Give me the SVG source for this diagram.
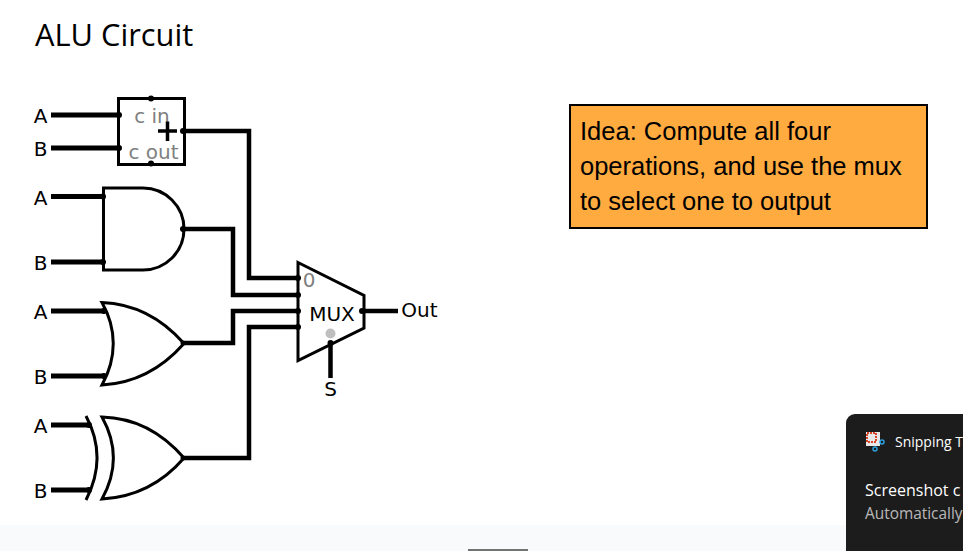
<svg xmlns="http://www.w3.org/2000/svg" width="963" height="551" viewBox="0 0 963 551">
<style>
.w{fill:none;stroke:#000;stroke-width:4.500;stroke-linejoin:miter}
.n{fill:none;stroke:#000;stroke-width:5}
.g{fill:#fff;stroke:#000;stroke-width:3;stroke-linejoin:miter}
.l{font-family:"DejaVu Sans",sans-serif;font-size:20px;fill:#000;text-anchor:middle}
.y{font-family:"DejaVu Sans",sans-serif;font-size:20px;fill:#808080;text-anchor:middle}
.d{fill:#000}
.i{font-family:"Liberation Sans",Arial,sans-serif;font-size:25.500px;fill:#000}
.t{font-family:"Open Sans",sans-serif;fill:#fff}
</style>
<rect width="963" height="551" fill="#fff"/>
<rect x="0" y="525" width="963" height="26" fill="#f9fafc"/>
<rect x="468" y="549" width="60" height="2" fill="#6f7472"/>
<text id="title" x="35" y="46" font-family="'Open Sans',sans-serif" font-size="30.800" fill="#000">ALU Circuit</text>
<g id="connectors">
<path class="n" d="M51 115H118M51 148H118"/>
<path class="n" d="M51 196.500H103M51 262H103"/>
<path class="n" d="M51 311H105M51 376H105"/>
<path class="n" d="M51 425H90M51 490H90"/>
<path class="w" d="M183 131H249V278H298"/>
<path class="w" d="M183 229H233V295H298"/>
<path class="w" d="M184 343H233V311H298"/>
<path class="w" d="M184 458H249V327H298"/>
<path class="w" d="M361 311H398"/>
<path class="w" d="M330.500 343V378"/>
</g>
<g id="adder">
<rect class="g" x="118.500" y="98.500" width="66" height="66"/>
<text class="y" x="152" y="123">c in</text>
<text class="y" x="153.500" y="159">c out</text>
<path d="M158 131H177M167.500 121.500V141" fill="none" stroke="#000" stroke-width="3.500"/>
<g class="d"><circle cx="151" cy="98.500" r="3"/><circle cx="151" cy="163.500" r="3"/><circle cx="119" cy="115" r="3"/><circle cx="119" cy="148" r="3"/><circle cx="183" cy="131" r="3"/></g>
</g>
<g id="and">
<path class="g" d="M103.500 188H143A41 41 0 0 1 143 270H103.500Z"/>
<g class="d"><circle cx="103" cy="196.500" r="3"/><circle cx="103" cy="262" r="3"/><circle cx="183" cy="229" r="3"/></g>
</g>
<g id="or">
<path class="g" d="M102 302.500C140 304 165 322 184 343.500C165 365 140 383 102 385C117 358 117 329 102 302.500Z"/>
<g class="d"><circle cx="104" cy="311" r="3"/><circle cx="104" cy="376" r="3"/><circle cx="183" cy="343" r="2.500"/></g>
</g>
<g id="xor">
<path class="g" d="M102 417C140 418 165 436 184 458C165 480 140 497 102 499C117 472 117 444 102 417Z"/>
<path d="M86 416C101 444 101 471 86 500" fill="none" stroke="#000" stroke-width="3"/>
<g class="d"><circle cx="89" cy="425" r="3"/><circle cx="89" cy="490" r="3"/><circle cx="183" cy="458" r="2.500"/></g>
</g>
<g id="mux">
<path class="g" d="M298 262.500L364 295.500V328L298 360.500Z"/>
<text class="y" x="309" y="287">0</text>
<text class="l" x="332" y="321">MUX</text>
<circle cx="330.500" cy="333.500" r="5" fill="#bfbfbf"/>
<g class="d"><circle cx="298" cy="278" r="3"/><circle cx="298" cy="295" r="3"/><circle cx="298" cy="311" r="3"/><circle cx="298" cy="327" r="3"/><circle cx="362" cy="311" r="3"/><circle cx="330.500" cy="343" r="3"/></g>
</g>
<g id="labels">
<text class="l" x="40.500" y="122.500">A</text>
<text class="l" x="40.500" y="155.500">B</text>
<text class="l" x="40.500" y="204.500">A</text>
<text class="l" x="40.500" y="269.500">B</text>
<text class="l" x="40.500" y="318.500">A</text>
<text class="l" x="40.500" y="383.500">B</text>
<text class="l" x="40.500" y="432.500">A</text>
<text class="l" x="40.500" y="497.500">B</text>
<text class="l" x="419.500" y="317">Out</text>
<text class="l" x="330.500" y="396">S</text>
</g>
<g id="note">
<rect x="570" y="105" width="357" height="123" fill="#ffab40" stroke="#000" stroke-width="2"/>
<text class="i" x="580" y="140">Idea: Compute all four</text>
<text class="i" x="580" y="175">operations, and use the mux</text>
<text class="i" x="580" y="210">to select one to output</text>
</g>
<g id="toast">
<path d="M963 414H855A9 9 0 0 0 846 423V551H963Z" fill="#1c1c1c"/>
<rect x="866" y="432" width="14" height="14" fill="#e8e8e8"/>
<rect x="867" y="433" width="9" height="9" fill="none" stroke="#d8442a" stroke-width="2" stroke-dasharray="2 1"/>
<circle cx="882" cy="442" r="2" fill="none" stroke="#2a9fe0" stroke-width="1.500"/>
<circle cx="875" cy="449" r="2" fill="none" stroke="#2a9fe0" stroke-width="1.500"/>
<text class="t" x="895" y="447" font-size="14">Snipping T</text>
<text class="t" x="865" y="496" font-size="16">Screenshot c</text>
<text class="t" x="865" y="519" font-size="15.400" fill-opacity="0.7">Automatically</text>
</g>
</svg>
